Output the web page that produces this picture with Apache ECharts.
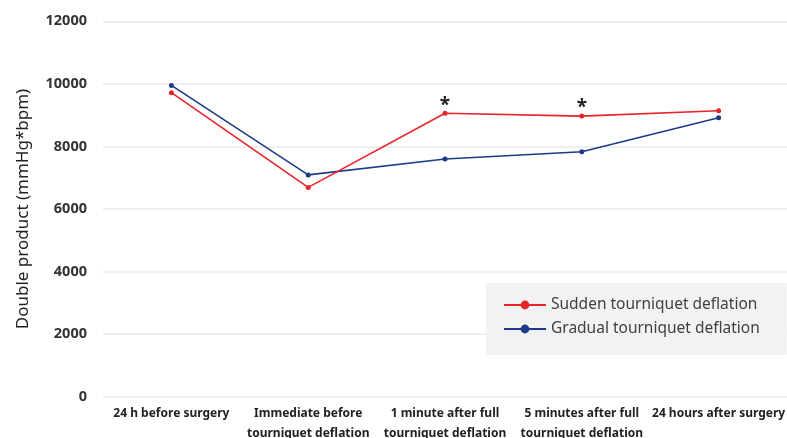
<!DOCTYPE html>
<html>
<head>
<meta charset="utf-8">
<script src="https://cdn.jsdelivr.net/npm/echarts@6/dist/echarts.min.js"></script>
<style>html,body{margin:0;padding:0;background:#fff}#c{width:787px;height:438px}</style>
</head>
<body>
<div id="c"></div>
<script>
const categories = ["24 h before surgery", "Immediate before\ntourniquet deflation", "1 minute after full\ntourniquet deflation", "5 minutes after full\ntourniquet deflation", "24 hours after surgery"];
const suddenValues = [9720, 6690, 9060, 8970, 9140];
const gradualValues = [9950, 7090, 7600, 7830, 8920];
const significant = [false, false, true, true, false];
const yTicks = { min: 0, max: 12000, interval: 2000 };
const seriesNames = ["Sudden tourniquet deflation", "Gradual tourniquet deflation"];

const chart = echarts.init(document.getElementById('c'), null, { renderer: 'canvas' });
const font = 'Noto Sans, sans-serif';
const suddenData = suddenValues.map((v, i) => significant[i] ? {
  value: v,
  label: { show: true, formatter: '*', position: 'top', distance: -4, fontSize: 19, fontWeight: 'bold', color: '#222', fontFamily: font }
} : v);

chart.setOption({
  animation: false,
  grid: { left: 103, right: 0, top: 21.3, bottom: 41.3, containLabel: false, outerBoundsMode: 'none' },
  xAxis: {
    type: 'category',
    data: categories,
    boundaryGap: true,
    axisLine: { show: false },
    axisTick: { show: false },
    axisLabel: { interval: 0, fontSize: 12, fontWeight: 'bold', color: '#222', fontFamily: font, lineHeight: 20, margin: 7 }
  },
  yAxis: {
    type: 'value',
    min: yTicks.min, max: yTicks.max, interval: yTicks.interval,
    name: 'Double product (mmHg*bpm)',
    nameLocation: 'middle',
    nameGap: 71,
    nameTextStyle: { fontSize: 17, color: '#222', fontFamily: font },
    axisLine: { show: false },
    axisTick: { show: false },
    splitLine: { lineStyle: { color: '#e9e9e9', width: 1.5 } },
    axisLabel: { fontSize: 14.5, fontWeight: 'bold', color: '#333', fontFamily: font, margin: 16, formatter: v => String(v) }
  },
  legend: {
    orient: 'vertical',
    left: 486, top: 283,
    backgroundColor: '#f1f2f2',
    padding: [14, 27, 18, 17],
    itemGap: 8,
    itemWidth: 42, itemHeight: 11,
    textStyle: { fontSize: 15.5, color: '#404040', fontFamily: font },
    data: seriesNames
  },
  series: [
    {
      name: seriesNames[0], type: 'line', data: suddenData,
      symbol: 'circle', symbolSize: 5,
      color: '#e8242b',
      lineStyle: { width: 1.6, color: '#e8242b' },
      itemStyle: { color: '#e8242b' },
      z: 3
    },
    {
      name: seriesNames[1], type: 'line', data: gradualValues,
      symbol: 'circle', symbolSize: 5,
      color: '#1f3a86',
      lineStyle: { width: 1.6, color: '#1f3a86' },
      itemStyle: { color: '#1f3a86' },
      z: 2
    }
  ]
});
</script>
</body>
</html>
